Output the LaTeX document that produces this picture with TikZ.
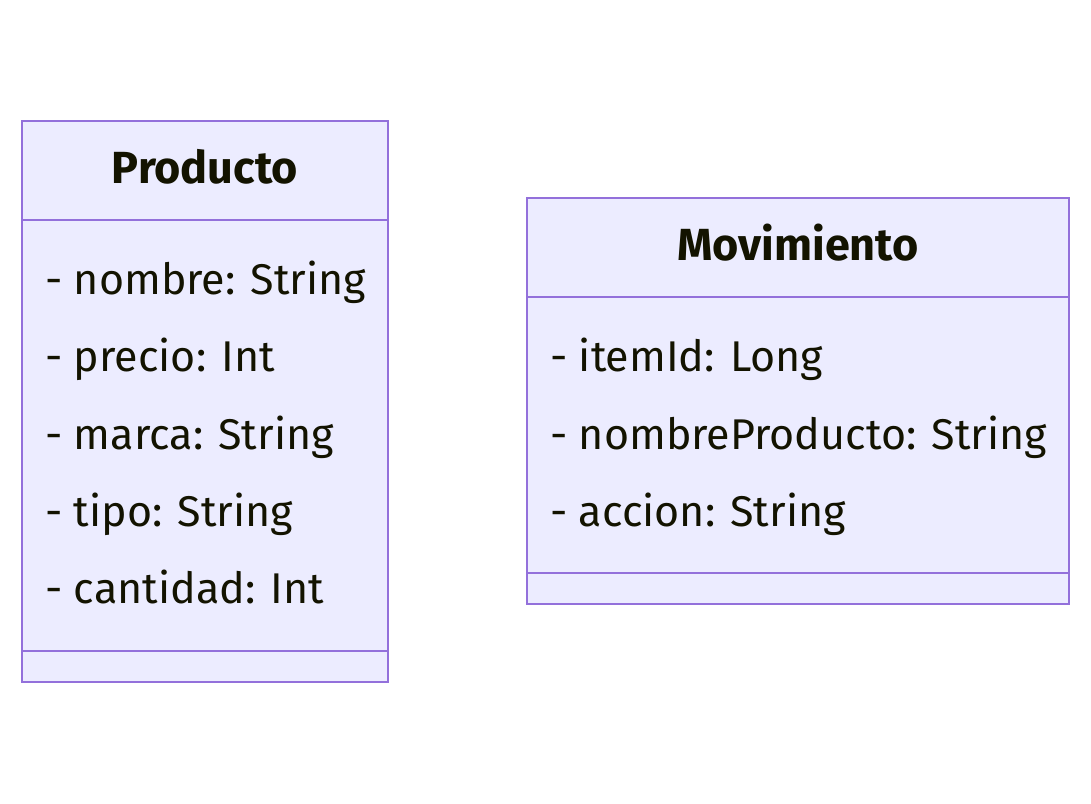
\documentclass[tikz,border=0pt]{standalone}
\usepackage{fontspec}
\setmainfont{Fira Sans}
\usepackage{xcolor}
\usetikzlibrary{positioning}
\definecolor{ClassFill}{HTML}{ECECFF}
\definecolor{ClassLine}{HTML}{9370DB}
\definecolor{ClassText}{HTML}{131300}

\begin{document}
\begin{tikzpicture}[x=1pt, y=-1pt,
  every node/.style={font=\fontsize{43}{50}\selectfont, text=ClassText},
  classbox/.style={draw=ClassLine, line width=2pt, fill=ClassFill, inner sep=0pt, outer sep=0pt},
  classname/.style={font=\fontsize{45}{52}\selectfont\bfseries, text height=33pt, text depth=8pt},
  attr/.style={anchor=base west, inner sep=0pt}]
\useasboundingbox (0,0) rectangle (1091,803);

% Producto
\node[classbox, classname, anchor=north west, minimum width=366pt, minimum height=99pt] (prodHead) at (22,121) {Producto};
\node[classbox, below=0pt of prodHead, minimum width=366pt, minimum height=431pt] (prodBody) {};
\node[classbox, below=0pt of prodBody, minimum width=366pt, minimum height=31pt] (prodFoot) {};
\node[attr] (prodNombre) at (45,294) {- nombre: String};
\node[attr] (prodPrecio) at (45,371) {- precio: Int};
\node[attr] (prodMarca) at (45,449) {- marca: String};
\node[attr] (prodTipo) at (45,526) {- tipo: String};
\node[attr] (prodCantidad) at (45,603) {- cantidad: Int};

% Movimiento
\node[classbox, classname, anchor=north west, minimum width=542pt, minimum height=99pt] (movHead) at (527,198) {Movimiento};
\node[classbox, below=0pt of movHead, minimum width=542pt, minimum height=276pt] (movBody) {};
\node[classbox, below=0pt of movBody, minimum width=542pt, minimum height=31pt] (movFoot) {};
\node[attr] (movItem) at (550,371) {- itemId: Long};
\node[attr] (movNombre) at (550,449) {- nombreProducto: String};
\node[attr] (movAccion) at (550,526) {- accion: String};
\end{tikzpicture}
\end{document}
